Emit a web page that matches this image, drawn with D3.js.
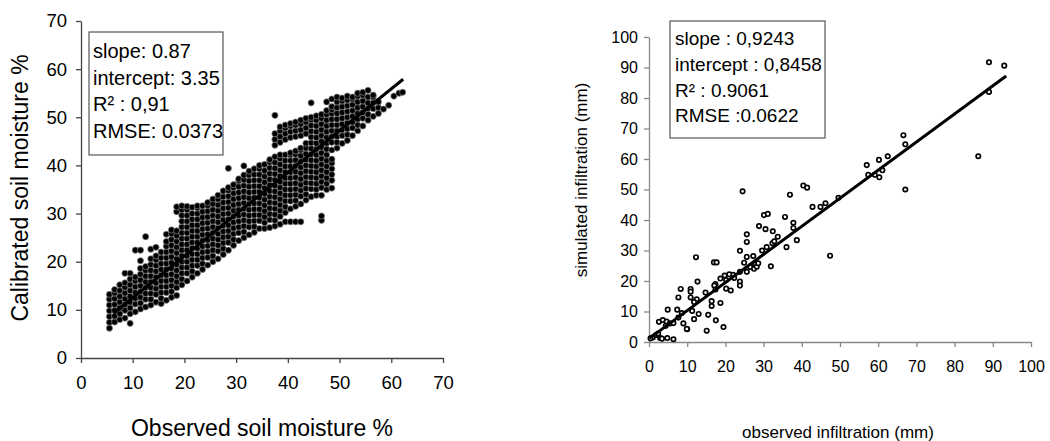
<!DOCTYPE html>
<html>
<head>
<meta charset="utf-8">
<script src="https://cdn.jsdelivr.net/npm/d3@7/dist/d3.min.js"></script>
<style>
  body { margin: 0; background: #fff; }
  svg { font-family: "Liberation Sans", Arial, sans-serif; }
</style>
</head>
<body>
<div id="chart"></div>
<script>
// LEFT PANEL: soil moisture, one column of calibrated values per observed value
const leftObs = [5.5, 6.5, 7.5, 8.5, 9.5, 10.5, 11.5, 12.5, 13.5, 14.5, 15.5, 16.5, 17.5, 18.5, 19.5,
  20.5, 21.5, 22.5, 23.5, 24.5, 25.5, 26.5, 27.5, 28.5, 29.5, 30.5, 31.5, 32.5, 33.5, 34.5, 35.5,
  36.5, 37.5, 38.5, 39.5, 40.5, 41.5, 42.5, 43.5, 44.5, 45.5, 46.5, 47.5, 48.5, 49.5, 50.5, 51.5,
  52.5, 53.5, 54.5, 55.5, 56.5, 57.5, 58.5, 59.5, 60.5, 61.5, 62.2];
const leftCal = [
  [6.2, 7.4, 8.6, 9.8, 11, 12.2, 13.2],
  [7.5, 8.7, 9.9, 11.1, 12.3, 13.5, 14.2],
  [8, 9.2, 10.4, 11.6, 12.8, 14, 15.2],
  [8.3, 9.9, 11.1, 12.3, 13.5, 14.7, 15.6, 17.6],
  [7.2, 9.2, 10.4, 11.6, 12.8, 14, 15.2, 16.4, 17.6],
  [9.6, 11.2, 12.4, 13.6, 14.8, 16, 16.8, 22.4],
  [10.2, 11.4, 12.6, 13.8, 15, 16.2, 17.4, 18.6, 20.2, 22.4],
  [10.6, 12.2, 13.4, 14.6, 15.8, 17, 18.2, 19, 25.2],
  [11, 12.2, 13.4, 14.6, 15.8, 17, 18.2, 19.4, 20.6, 22.6],
  [11.6, 13.2, 14.4, 15.6, 16.8, 18, 19.2, 20.4, 21.2, 23],
  [11.3, 12.4, 13.6, 14.8, 16, 17.2, 18.4, 19.6, 20.8, 22],
  [12, 13.6, 14.8, 16, 17.2, 18.4, 19.6, 20.8, 22, 23.2, 24.2, 25.7],
  [12.6, 13.8, 15, 16.2, 17.4, 18.6, 19.8, 21, 22.2, 23.4, 24.6, 25.8, 26.6],
  [13, 14.6, 15.8, 17, 18.2, 19.4, 20.6, 21.8, 23, 24.2, 25.4, 26.4, 30.4, 31.4],
  [15.2, 16.4, 17.6, 18.8, 20, 21.2, 22.4, 23.6, 24.8, 26, 27.2, 28.4, 29.6, 30.8, 31.6],
  [16, 17.6, 18.8, 20, 21.2, 22.4, 23.6, 24.8, 26, 27.2, 28.4, 29.6, 30.8, 31.5],
  [16.8, 18, 19.2, 20.4, 21.6, 22.8, 24, 25.2, 26.4, 27.6, 28.8, 30, 31.3],
  [17.6, 19.2, 20.4, 21.6, 22.8, 24, 25.2, 26.4, 27.6, 28.8, 30, 31.2, 31.6],
  [18.4, 19.6, 20.8, 22, 23.2, 24.4, 25.6, 26.8, 28, 29.2, 30.4, 31.6],
  [19.3, 20.9, 22.1, 23.3, 24.5, 25.7, 26.9, 28.1, 29.3, 30.5, 31.7, 32.3],
  [20, 21.2, 22.4, 23.6, 24.8, 26, 27.2, 28.4, 29.6, 30.8, 32, 33],
  [20.6, 22.2, 23.4, 24.6, 25.8, 27, 28.2, 29.4, 30.6, 31.8, 33, 33.8],
  [21.5, 22.7, 23.9, 25.1, 26.3, 27.5, 28.7, 29.9, 31.1, 32.3, 33.5, 34.7],
  [22.4, 24, 25.2, 26.4, 27.6, 28.8, 30, 31.2, 32.4, 33.6, 34.8, 35.4, 39.4],
  [23.4, 24.6, 25.8, 27, 28.2, 29.4, 30.6, 31.8, 33, 34.2, 35.4, 36],
  [24.4, 26, 27.2, 28.4, 29.6, 30.8, 32, 33.2, 34.4, 35.6, 36.8, 37.2],
  [25, 26.2, 27.4, 28.6, 29.8, 31, 32.2, 33.4, 34.6, 35.8, 37, 38, 39.9],
  [25.6, 27.2, 28.4, 29.6, 30.8, 32, 33.2, 34.4, 35.6, 36.8, 38, 38.8],
  [26.1, 27.3, 28.5, 29.7, 30.9, 32.1, 33.3, 34.5, 35.7, 36.9, 38.1, 39.3],
  [26.9, 28.5, 29.7, 30.9, 32.1, 33.3, 34.5, 35.7, 36.9, 38.1, 39.3, 40],
  [26.9, 28.1, 29.3, 30.5, 31.7, 32.9, 34.1, 35.3, 36.5, 37.7, 38.9, 40.2],
  [27.1, 28.7, 29.9, 31.1, 32.3, 33.5, 34.7, 35.9, 37.1, 38.3, 39.5, 40.7, 41.2],
  [27.4, 28.6, 29.8, 31, 32.2, 33.4, 34.6, 35.8, 37, 38.2, 39.4, 40.6, 41.8, 44.2, 45.4, 46.6, 50.4],
  [27.8, 29.4, 30.6, 31.8, 33, 34.2, 35.4, 36.6, 37.8, 39, 40.2, 41.4, 42.2, 44.8, 46, 47.2, 48],
  [28.3, 30.2, 31.4, 32.6, 33.8, 35, 36.2, 37.4, 38.6, 39.8, 41, 42.2, 45.4, 46.6, 47.8, 48.4],
  [28.3, 31, 32.6, 33.8, 35, 36.2, 37.4, 38.6, 39.8, 41, 42.2, 42.6, 45.8, 47, 48.2, 48.7],
  [28.3, 31.5, 32.7, 33.9, 35.1, 36.3, 37.5, 38.7, 39.9, 41.1, 42.3, 43, 46, 47.2, 48.4, 49],
  [28.3, 32, 33.6, 34.8, 36, 37.2, 38.4, 39.6, 40.8, 42, 43.2, 43.6, 46.2, 47.4, 48.6, 49.4],
  [32.8, 34, 35.2, 36.4, 37.6, 38.8, 40, 41.2, 42.4, 43.6, 44.6, 46.6, 47.8, 49, 49.8],
  [33.5, 35.1, 36.3, 37.5, 38.7, 39.9, 41.1, 42.3, 43.5, 44.7, 45.9, 47.1, 48.3, 49.5, 50, 53],
  [33.8, 35, 36.2, 37.4, 38.6, 39.8, 41, 42.2, 43.4, 44.6, 45.8, 47, 48.2, 49.4, 50.3],
  [28.6, 29.5, 33.8, 35.4, 36.6, 37.8, 39, 40.2, 41.4, 42.6, 43.8, 45, 46.2, 47.4, 48.6, 49.8, 50.6],
  [35, 36.2, 37.4, 38.6, 39.8, 41, 42.2, 43.4, 44.6, 45.8, 47, 48.2, 49.4, 50.6, 51.4, 53.2],
  [35.3, 36.9, 38.1, 39.3, 40.5, 41.3, 43.2, 44.8, 46, 47.2, 48.4, 49.6, 50.8, 51.6, 52.2, 53.8],
  [43.6, 44.8, 46, 47.2, 48.4, 49.6, 50.8, 52, 53.2, 54.2],
  [44.6, 46.2, 47.4, 48.6, 49.8, 51, 52.2, 53.4, 54],
  [45.2, 46.4, 47.6, 48.8, 50, 51.2, 52.4, 53.6, 54.4],
  [46.2, 47.8, 49, 50.2, 51.4, 52.6, 53.8, 54.2],
  [47.2, 48.4, 49.6, 50.8, 52, 53.2, 54.4, 55],
  [48.2, 49.8, 51, 52.2, 53.4, 54.6, 55.2],
  [49.4, 50.6, 51.8, 53, 54.2, 55.6],
  [50.2, 51.8, 53, 54.2, 54.6],
  [50.8, 52, 53.2],
  [51.7],
  [52.5],
  [54.4],
  [55],
  [55.2]
];
const leftFit = [[6.3, 9.3], [62.3, 57.9]]; // regression line ends
const leftTicks = [0, 10, 20, 30, 40, 50, 60, 70];
const leftStats = ["slope: 0.87", "intercept: 3.35", "R\u00b2 : 0,91", "RMSE: 0.0373"];

// RIGHT PANEL: infiltration
const rightObs = [24.5, 40.4, 41.4, 36.9, 30.1, 31.1, 35.6, 28.8, 30.5, 32.4, 37.8, 37.8, 33.7, 38.7, 36,
  25.6, 25.6, 23.8, 29.6, 30.8, 32.3, 32.8, 25.6, 27.3, 24.9, 27.8, 31.9, 26.5, 27.5, 23.8, 22, 21, 19.8,
  22.3, 20.2, 20.2, 21.4, 23.8, 23.8, 12.3, 17, 17.7, 12.7, 18.7, 17.4, 17.1, 17.4, 18.7, 16.4, 16.4, 14.8,
  17.5, 15.1, 19.5, 15.5, 11.8, 13, 10.9, 10.9, 10.9, 12.5, 11.8, 11.3, 10, 9, 8.3, 7.7, 7.4, 8.6, 7.7,
  4.9, 2.6, 3.6, 4.6, 5.5, 6.4, 4.4, 1.8, 2.4, 1, 2.9, 4.8, 6.4, 0.4, 3.4, 42.8, 44.9, 46.2, 49.6, 47.4,
  57, 57.4, 59.1, 60.3, 60.2, 61.1, 62.5, 89, 93, 89, 86.2, 66.6, 67.1, 67.1, 28.2, 28.6, 25.6, 9.9];
const rightSim = [49.4, 51.3, 50.6, 48.3, 41.6, 42, 41, 38, 37, 36.3, 39.1, 37.4, 34.5, 33.4, 31.1,
  35.3, 32.8, 29.9, 30, 31.1, 32.4, 33, 27.9, 28.2, 26, 25.4, 24.8, 24.6, 24, 23, 22, 22.2, 21.8,
  21, 20.3, 17.5, 16.9, 19.8, 18.5, 27.8, 26.1, 26.1, 19.8, 20.8, 19, 18.5, 17.2, 12.8, 13.4, 11.8, 16.2,
  7.1, 3.7, 4.9, 8.9, 7.5, 9.2, 17.4, 16.5, 14.6, 14, 13.1, 10.2, 4.2, 6.1, 17.4, 14.6, 10.6, 9.5, 8,
  10.6, 6.6, 7.2, 6.7, 6.1, 6.2, 5.3, 2.3, 2.8, 1.5, 1.3, 1.3, 0.9, 1.2, 1.1, 44.3, 44.3, 45.5, 47.3, 28.3,
  58, 54.8, 54.8, 54, 59.7, 56.3, 60.9, 91.7, 90.6, 82, 60.9, 67.8, 64.8, 50, 24.7, 25.8, 23, 4.3];
const rightFit = [[0.1, 1.2], [93.5, 87.2]];
const rightTicks = [0, 10, 20, 30, 40, 50, 60, 70, 80, 90, 100];
const rightStats = ["slope : 0,9243", "intercept : 0,8458", "R\u00b2 : 0.9061", "RMSE :0.0622"];

const width = 1050;
const height = 441;

const svg = d3.select("#chart")
  .append("svg")
  .attr("width", width)
  .attr("height", height);

// draws one panel: axes, points, fit line, stats box, titles
function drawPanel(opt) {
  const g = svg.append("g");

  const x = d3.scaleLinear().domain(opt.domain[0]).range([opt.x0, opt.x1]);
  const y = d3.scaleLinear().domain(opt.domain[1]).range([opt.y0, opt.y1]);

  const xAxis = g.append("g")
    .attr("transform", "translate(0," + opt.y0 + ")")
    .call(d3.axisBottom(x).tickValues(opt.ticks).tickSize(5).tickSizeOuter(0).tickPadding(opt.xPad));
  const yAxis = g.append("g")
    .attr("transform", "translate(" + opt.x0 + ",0)")
    .call(d3.axisLeft(y).tickValues(opt.ticks).tickSize(5).tickSizeOuter(0).tickPadding(opt.yPad));

  [xAxis, yAxis].forEach(function (ax) {
    ax.selectAll("path, line").attr("stroke", opt.axisColor).attr("stroke-width", 1.3);
    ax.selectAll("text")
      .attr("fill", "#000")
      .style("font-family", "Liberation Sans, Arial, sans-serif")
      .style("font-size", opt.tickFont + "px");
  });

  // points
  g.append("g")
    .selectAll("circle")
    .data(opt.points)
    .enter()
    .append("circle")
    .attr("cx", function (d) { return x(d.x); })
    .attr("cy", function (d) { return y(d.y); })
    .attr("r", opt.dot.r)
    .attr("fill", opt.dot.fill)
    .attr("stroke", opt.dot.stroke)
    .attr("stroke-width", opt.dot.sw);

  // fit line
  g.append("path")
    .datum(opt.fit)
    .attr("fill", "none")
    .attr("stroke", "#000")
    .attr("stroke-width", 3)
    .attr("d", d3.line().x(function (d) { return x(d[0]); }).y(function (d) { return y(d[1]); }));

  // stats box
  g.append("rect")
    .attr("x", opt.box[0])
    .attr("y", opt.box[1])
    .attr("width", opt.box[2])
    .attr("height", opt.box[3])
    .attr("fill", "#fff")
    .attr("stroke", "#555")
    .attr("stroke-width", 1.2);

  g.selectAll(".stat")
    .data(opt.stats)
    .enter()
    .append("text")
    .attr("class", "stat")
    .attr("x", opt.box[0] + opt.boxPadX)
    .attr("y", function (d, i) { return opt.boxLine0 + i * opt.boxStep; })
    .style("font-size", opt.boxFont + "px")
    .text(function (d) { return d; });

  // axis titles
  g.append("text")
    .attr("x", opt.xTitle[0])
    .attr("y", opt.xTitle[1])
    .style("text-anchor", "middle")
    .style("font-size", opt.titleFont + "px")
    .text(opt.xLabel);

  g.append("text")
    .attr("transform", "translate(" + opt.yTitle[0] + "," + opt.yTitle[1] + ") rotate(-90)")
    .style("text-anchor", "middle")
    .style("font-size", opt.titleFont + "px")
    .text(opt.yLabel);
}

const leftPoints = leftObs.flatMap(function (xv, i) {
  return leftCal[i].map(function (yv) { return { x: xv, y: yv }; });
});
const rightPoints = rightObs.map(function (xv, i) { return { x: xv, y: rightSim[i] }; });

drawPanel({
  domain: [[0, 70], [0, 70]],
  x0: 81, x1: 443, y0: 358, y1: 21,
  ticks: leftTicks,
  xPad: 13, yPad: 9,
  axisColor: "#444",
  tickFont: 18.5,
  points: leftPoints,
  dot: { r: 3.1, fill: "#000", stroke: "#888", sw: 0.7 },
  fit: leftFit,
  box: [89, 32, 134, 123],
  boxPadX: 4, boxLine0: 58, boxStep: 26.7, boxFont: 20,
  stats: leftStats,
  titleFont: 23,
  xLabel: "Observed soil moisture %", xTitle: [262, 436],
  yLabel: "Calibrated soil moisture %", yTitle: [28, 188]
});

drawPanel({
  domain: [[0, 100], [0, 100]],
  x0: 649, x1: 1031, y0: 342, y1: 37,
  ticks: rightTicks,
  xPad: 14, yPad: 6,
  axisColor: "#888",
  tickFont: 16,
  points: rightPoints,
  dot: { r: 2.2, fill: "#fff", stroke: "#000", sw: 1.7 },
  fit: rightFit,
  box: [670, 21, 155, 117],
  boxPadX: 5, boxLine0: 45, boxStep: 25.8, boxFont: 19,
  stats: rightStats,
  titleFont: 17,
  xLabel: "observed infiltration (mm)", xTitle: [838, 438],
  yLabel: "simulated infiltration (mm)", yTitle: [587, 180]
});
</script>
</body>
</html>
